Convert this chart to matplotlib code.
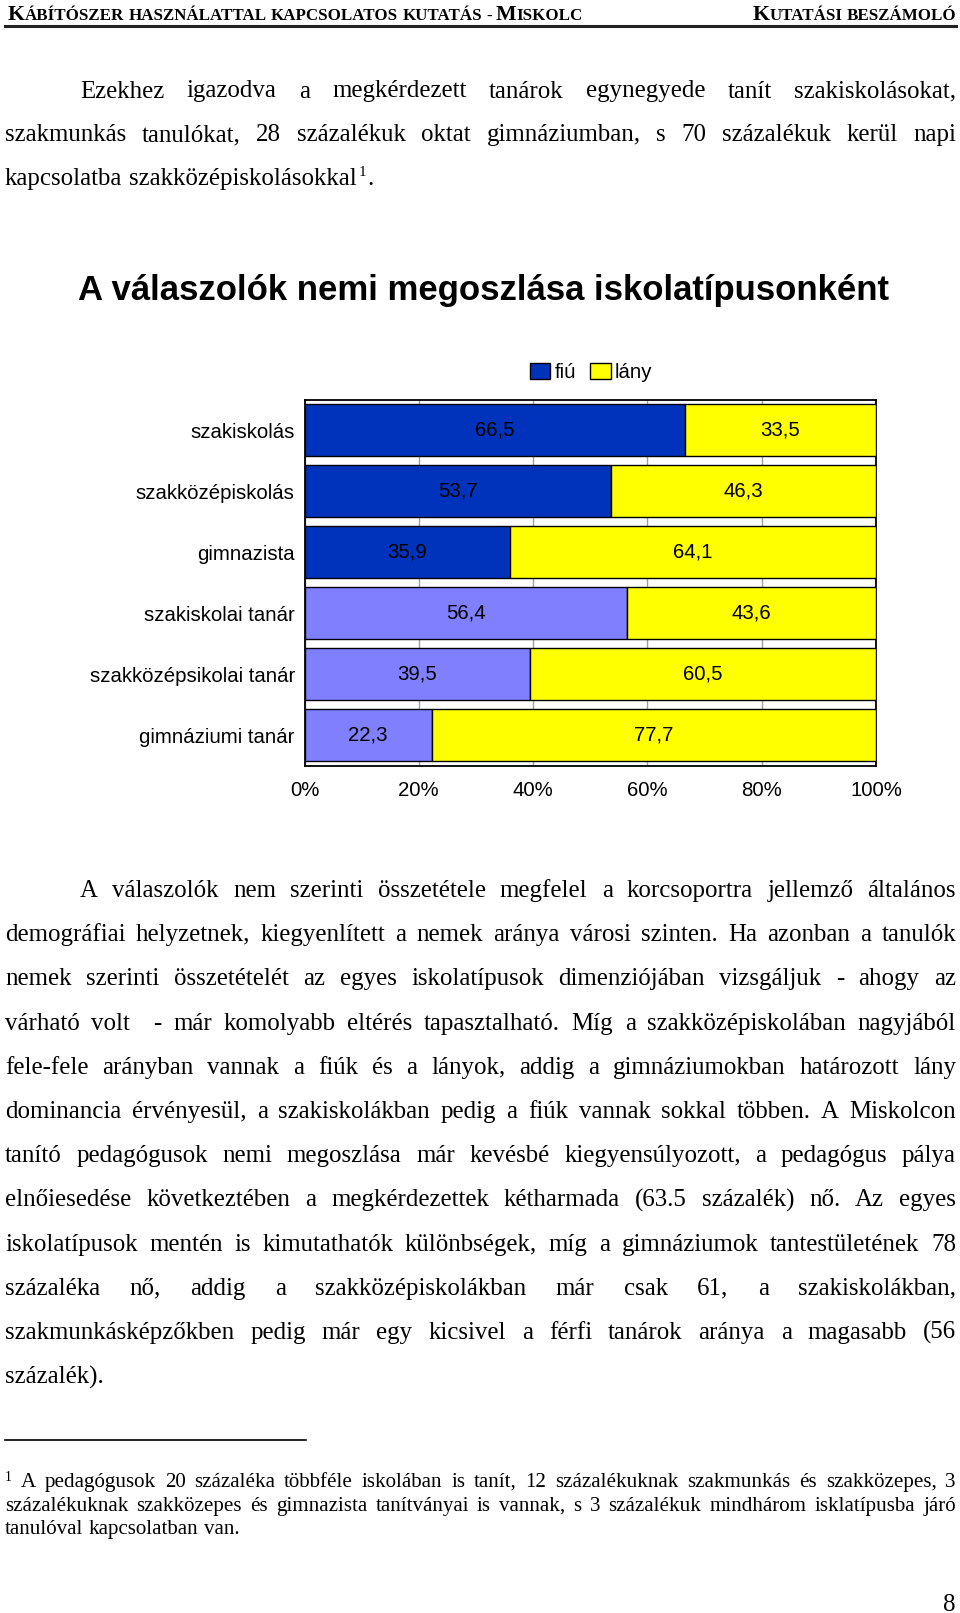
import matplotlib
matplotlib.use('Agg')
import matplotlib.pyplot as plt
from matplotlib.patches import Patch
import numpy as np

W, H = 960, 1613

header_left = 'Kábítószer használattal kapcsolatos kutatás - Miskolc'
header_right = 'Kutatási beszámoló'

para1 = [
    'Ezekhez igazodva a megkérdezett tanárok egynegyede tanít szakiskolásokat,',
    'szakmunkás tanulókat, 28 százalékuk oktat gimnáziumban, s 70 százalékuk kerül napi',
    'kapcsolatba szakközépiskolásokkal',
]

para2 = [
    'A válaszolók nem szerinti összetétele megfelel a korcsoportra jellemző általános',
    'demográfiai helyzetnek, kiegyenlített a nemek aránya városi szinten. Ha azonban a tanulók',
    'nemek szerinti összetételét az egyes iskolatípusok dimenziójában vizsgáljuk - ahogy az',
    'várható volt  - már komolyabb eltérés tapasztalható. Míg a szakközépiskolában nagyjából',
    'fele-fele arányban vannak a fiúk és a lányok, addig a gimnáziumokban határozott lány',
    'dominancia érvényesül, a szakiskolákban pedig a fiúk vannak sokkal többen. A Miskolcon',
    'tanító pedagógusok nemi megoszlása már kevésbé kiegyensúlyozott, a pedagógus pálya',
    'elnőiesedése következtében a megkérdezettek kétharmada (63.5 százalék) nő. Az egyes',
    'iskolatípusok mentén is kimutathatók különbségek, míg a gimnáziumok tantestületének 78',
    'százaléka nő, addig a szakközépiskolákban már csak 61, a szakiskolákban,',
    'szakmunkásképzőkben pedig már egy kicsivel a férfi tanárok aránya a magasabb (56',
    'százalék).',
]

footnote = [
    'A pedagógusok 20 százaléka többféle iskolában is tanít, 12 százalékuknak szakmunkás és szakközepes, 3',
    'százalékuknak szakközepes és gimnazista tanítványai is vannak, s 3 százalékuk mindhárom isklatípusba járó',
    'tanulóval kapcsolatban van.',
]

title = 'A válaszolók nemi megoszlása iskolatípusonként'
categories = ['szakiskolás', 'szakközépiskolás', 'gimnazista',
              'szakiskolai tanár', 'szakközépsikolai tanár', 'gimnáziumi tanár']
fiu = [66.5, 53.7, 35.9, 56.4, 39.5, 22.3]
lany = [33.5, 46.3, 64.1, 43.6, 60.5, 77.7]
series_names = ['fiú', 'lány']
xticks = [0, 20, 40, 60, 80, 100]
xtick_labels = ['0%', '20%', '40%', '60%', '80%', '100%']

# colours
student_blue = '#0033bb'
teacher_blue = '#8080ff'
yellow = '#ffff00'
fiu_colors = [student_blue] * 3 + [teacher_blue] * 3

serif = 'Liberation Serif'
sans = ['Liberation Sans Narrow', 'Liberation Sans']

fig = plt.figure(figsize=(W / 100, H / 100), dpi=100)
renderer = fig.canvas.get_renderer()


def fx(x):
    return x / W


def fy(y):
    return 1 - y / H


def put(x, y, s, **kw):
    return fig.text(fx(x), fy(y), s, **kw)


def measure(s, **kw):
    t = fig.text(0, 0, s, **kw)
    w = t.get_window_extent(renderer=renderer).width
    t.remove()
    return w


def fit(s, target, **kw):
    return 20 * target / measure(s, fontsize=20, **kw)


def space_width(**kw):
    return measure('a a', **kw) - measure('aa', **kw)


def text_line(words_line, x0, x1, y, justify=True, **kw):
    words = words_line.split(' ')
    ws = [measure(w, **kw) if w else 0 for w in words]
    if justify and len(words) > 1:
        gap = (x1 - x0 - sum(ws)) / (len(words) - 1)
    else:
        gap = space_width(**kw)
    x = x0
    for w, wd in zip(words, ws):
        if w:
            put(x, y, w, ha='left', va='baseline', **kw)
        x += wd + gap
    return x - gap


def small_caps(s, x, y, base, draw=True):
    # capitals at full size, lower case as smaller capitals
    kw = dict(family=serif, weight='bold')
    sp = space_width(fontsize=base * 0.78, **kw)
    for word in s.split(' '):
        runs = []
        for ch in word:
            big = ch.isupper()
            if runs and runs[-1][1] == big:
                runs[-1][0] += ch
            else:
                runs.append([ch, big])
        for txt, big in runs:
            size = base if big else base * 0.78
            t = txt.upper()
            w = measure(t, fontsize=size, **kw)
            if draw:
                put(x, y, t, ha='left', va='baseline', fontsize=size, **kw)
            x += w
        x += sp
    return x - sp


# header
hdr_w = small_caps(header_left, 0, 0, 20, draw=False)
hdr_size = 20 * 570 / hdr_w
small_caps(header_left, 8, 20.5, hdr_size)
rw = small_caps(header_right, 0, 0, hdr_size, draw=False)
small_caps(header_right, 956 - rw, 20.5, hdr_size)
fig.add_artist(plt.Line2D([fx(5), fx(956)], [fy(25.5), fy(25.5)], color='#222222', lw=2.2))

# body text
body = dict(family=serif, fontsize=fit('kapcsolatba szakközépiskolásokkal', 352, family=serif))
left, right, indent = 5, 956, 80
step = 43.8

y = 97.5
for i, line in enumerate(para1):
    last = i == len(para1) - 1
    end = text_line(line, indent if i == 0 else left, right, y + i * step, justify=not last, **body)
sup = dict(family=serif, fontsize=body['fontsize'] * 0.6)
put(end + 2, y + 2 * step - 9, '1', ha='left', va='baseline', **sup)
put(end + 2 + measure('1', **sup) + 1, y + 2 * step, '.', ha='left', va='baseline', **body)

y = 897
for i, line in enumerate(para2):
    last = i == len(para2) - 1
    text_line(line, indent if i == 0 else left, right, y + i * 44.2, justify=not last, **body)

# footnote
fig.add_artist(plt.Line2D([fx(5), fx(306)], [fy(1439.5), fy(1439.5)], color='black', lw=1.2))
foot = dict(family=serif, fontsize=fit('tanulóval kapcsolatban van.', 233.6, family=serif))
fsup = dict(family=serif, fontsize=foot['fontsize'] * 0.65)
put(5, 1481, '1', ha='left', va='baseline', **fsup)
fy0 = 1487
for i, line in enumerate(footnote):
    last = i == len(footnote) - 1
    text_line(line, 21 if i == 0 else left, right, fy0 + i * 23.6, justify=not last, **foot)

put(956, 1611, '8', ha='right', va='baseline', **body)

# chart
title_size = fit(title, 812, family=sans, weight='bold')
put(483, 300, title, ha='center', va='baseline', family=sans, weight='bold', fontsize=title_size)

lab_size = fit('szakközépsikolai tanár', 205, family=sans)

ax = fig.add_axes([fx(304.5), fy(766), (876 - 304.5) / W, (766 - 399.5) / H])
ypos = np.arange(len(categories))
b1 = ax.barh(ypos, fiu, height=0.85, color=fiu_colors, edgecolor='black', lw=1.0, zorder=3)
b2 = ax.barh(ypos, lany, left=fiu, height=0.85, color=yellow, edgecolor='black', lw=1.0, zorder=3)
ax.bar_label(b1, labels=[f'{v:.1f}'.replace('.', ',') for v in fiu], label_type='center',
             family=sans, fontsize=lab_size)
ax.bar_label(b2, labels=[f'{v:.1f}'.replace('.', ',') for v in lany], label_type='center',
             family=sans, fontsize=lab_size)
ax.set_xlim(0, 100)
ax.set_ylim(len(categories) - 0.5, -0.5)
ax.set_yticks(ypos)
ax.set_yticklabels(categories, family=sans, fontsize=lab_size)
ax.set_xticks(xticks)
ax.set_xticklabels(xtick_labels, family=sans, fontsize=lab_size)
ax.tick_params(axis='y', length=0, pad=7)
ax.tick_params(axis='x', length=0, pad=11)
ax.xaxis.grid(True, color='#a0a0a0', lw=1, zorder=0)
ax.set_axisbelow(True)
for s in ax.spines.values():
    s.set_color('black')
    s.set_linewidth(1.3)

handles = [Patch(facecolor=student_blue, edgecolor='black', lw=1),
           Patch(facecolor=yellow, edgecolor='black', lw=1)]
fig.legend(handles, series_names, loc='center', bbox_to_anchor=(fx(591), fy(372.5)),
           ncol=2, frameon=False, prop=dict(family=sans, size=lab_size),
           handlelength=1.0, handleheight=0.8, handletextpad=0.2, columnspacing=0.7)

fig.savefig('out.png', dpi=100)
